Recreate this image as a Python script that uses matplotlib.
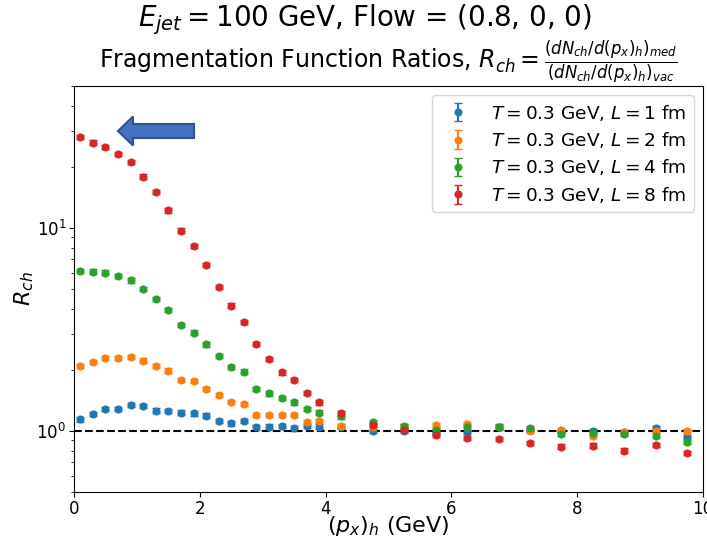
import numpy as np
import matplotlib
matplotlib.use("Agg")
import matplotlib.pyplot as plt
from matplotlib.patches import FancyArrow

# bin centres in (p_x)_h [GeV]
x = [0.1, 0.3, 0.5, 0.7, 0.9, 1.1, 1.3, 1.5, 1.7, 1.9,
     2.1, 2.3, 2.5, 2.7, 2.9, 3.1, 3.3, 3.5, 3.7, 3.9,
     4.25, 4.75, 5.25, 5.75, 6.25, 6.75, 7.25, 7.75, 8.25, 8.75, 9.25, 9.75]

r_L1 = [1.14, 1.21, 1.28, 1.28, 1.34, 1.33, 1.26, 1.25, 1.23, 1.22,
        1.19, 1.12, 1.09, 1.12, 1.04, 1.05, 1.06, 1.03, 1.06, 1.05,
        1.05, 1.00, 1.00, 0.974, 0.99, 1.04, 1.01, 1.00, 1.00, 0.99, 1.03, 0.934]
r_L2 = [2.09, 2.19, 2.29, 2.29, 2.31, 2.22, 2.09, 1.98, 1.78, 1.76,
        1.61, 1.50, 1.39, 1.36, 1.20, 1.20, 1.20, 1.20, 1.11, 1.12,
        1.06, 1.05, 1.05, 1.07, 1.08, 1.05, 1.00, 1.01, 0.948, 0.99, 1.00, 1.00]
r_L4 = [6.14, 6.09, 6.02, 5.78, 5.52, 4.99, 4.48, 3.93, 3.32, 3.05,
        2.67, 2.34, 2.07, 1.96, 1.61, 1.53, 1.45, 1.38, 1.28, 1.23,
        1.18, 1.11, 1.06, 1.01, 1.04, 1.05, 1.03, 0.963, 0.974, 0.963, 0.948, 0.883]
r_L8 = [28.0, 26.3, 25.1, 23.2, 21.1, 17.9, 15.0, 12.2, 9.70, 8.15,
        6.55, 5.10, 4.14, 3.44, 2.68, 2.26, 1.94, 1.78, 1.54, 1.38,
        1.22, 1.07, 1.01, 0.955, 0.92, 0.91, 0.873, 0.837, 0.846, 0.80, 0.853, 0.78]

lengths = [1, 2, 4, 8]
series = [r_L1, r_L2, r_L4, r_L8]
rel_err = 0.025

fig = plt.figure(figsize=(7.07, 5.38), dpi=100)
ax = fig.add_axes([74/707, 1 - 492/538, (703 - 74)/707, (492 - 86)/538])

for L, r in zip(lengths, series):
    r = np.array(r)
    ax.errorbar(x, r, yerr=rel_err*r, fmt='o', ms=4.8, capsize=3,
                label=r"$T = 0.3$ GeV, $L = %d$ fm" % L)

ax.axhline(1.0, color='k', ls='--', lw=1.5)
ax.set_yscale('log')
ax.set_xlim(0, 10)
ax.set_ylim(0.5, 50)
ax.tick_params(labelsize=12, pad=2)
ax.set_xlabel(r"$(p_x)_h$ (GeV)", fontsize=16, labelpad=-2.5)
ax.set_ylabel(r"$R_{ch}$", fontsize=16, labelpad=0)
ax.legend(loc='upper right', fontsize=13.3, labelspacing=0.4)

ax.set_title(r"Fragmentation Function Ratios, $R_{ch} = \frac{(dN_{ch}/d(p_x)_h)_{med}}{(dN_{ch}/d(p_x)_h)_{vac}}$",
             fontsize=17, pad=1)
fig.text(365/707, 1 - 20/538, r"$E_{jet} = 100$ GeV, Flow = (0.8, 0, 0)",
         ha='center', va='center', fontsize=20)

# block arrow pointing at the L = 8 fm curve
arrow = FancyArrow(194/707, 1 - 131/538, -(194 - 118)/707, 0,
                   width=14/538, head_width=29/538, head_length=15/707,
                   length_includes_head=True, transform=fig.transFigure,
                   facecolor='#4472C4', edgecolor='#2F528F', lw=1.5)
fig.patches.append(arrow)

fig.savefig("out.png", dpi=100)
